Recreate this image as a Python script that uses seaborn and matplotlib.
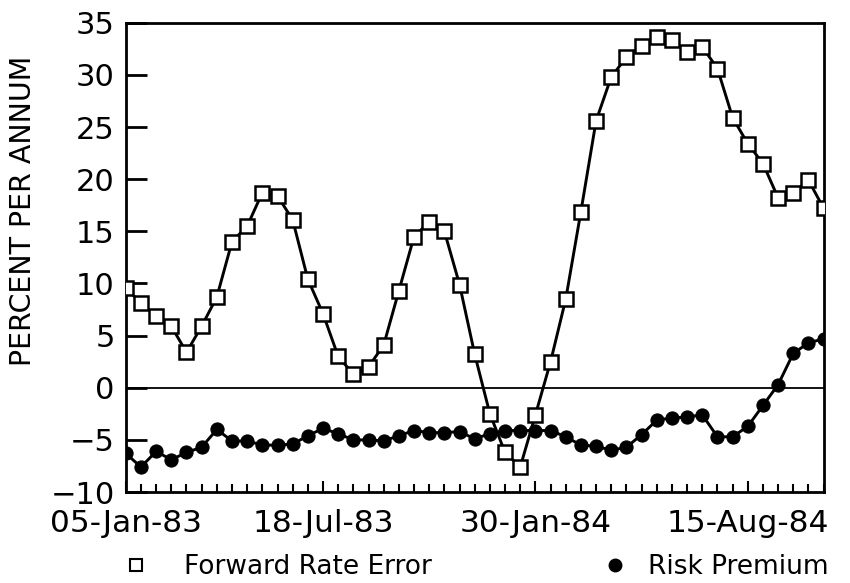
import numpy as np
import matplotlib
matplotlib.use("Agg")
import matplotlib.pyplot as plt
import seaborn as sns
from matplotlib.lines import Line2D

forward_rate_error = [
    9.6, 8.1, 6.9, 5.9, 3.4, 5.9, 8.7, 14.0, 15.5, 18.7, 18.4, 16.1,
    10.4, 7.1, 3.0, 1.3, 2.0, 4.1, 9.3, 14.5, 15.9, 15.0, 9.9, 3.2,
    -2.5, -6.2, -7.6, -2.6, 2.5, 8.5, 16.9, 25.6, 29.8, 31.7, 32.8, 33.6,
    33.3, 32.2, 32.7, 30.6, 25.9, 23.4, 21.5, 18.2, 18.7, 19.9, 17.2,
]
risk_premium = [
    -6.3, -7.6, -6.1, -6.9, -6.2, -5.7, -4.0, -5.1, -5.1, -5.5, -5.5, -5.4,
    -4.6, -3.9, -4.4, -5.0, -5.0, -5.1, -4.6, -4.1, -4.3, -4.3, -4.2, -4.9,
    -4.4, -4.1, -4.1, -4.1, -4.1, -4.7, -5.5, -5.6, -6.0, -5.7, -4.5, -3.1,
    -2.9, -2.8, -2.6, -4.7, -4.7, -3.7, -1.7, 0.3, 3.3, 4.3, 4.7,
]
period = list(range(len(forward_rate_error)))
tick_labels = ["05-Jan-83", "18-Jul-83", "30-Jan-84", "15-Aug-84"]
tick_index = [0, 13, 27, 41]

sns.set_style("ticks")
plt.rcParams["font.family"] = ["DejaVu Sans"]
plt.rcParams["text.color"] = "black"
plt.rcParams["xtick.color"] = "black"
plt.rcParams["ytick.color"] = "black"
plt.rcParams["axes.labelcolor"] = "black"

fig = plt.figure(figsize=(8.5, 5.83), dpi=100)
ax = fig.add_axes([0.148, 0.156, 0.821, 0.805])

ax.axhline(0, color="black", linewidth=1.3, zorder=1)

sns.lineplot(x=period, y=risk_premium, ax=ax, color="black", linewidth=2.1,
             marker="o", markersize=9.5, markerfacecolor="black",
             markeredgecolor="black", zorder=2)
sns.lineplot(x=period, y=forward_rate_error, ax=ax, color="black", linewidth=2.1,
             marker="s", markersize=10, markerfacecolor="white",
             markeredgecolor="black", markeredgewidth=1.8, zorder=3)

ax.set_xlim(0, len(period) - 1)
ax.set_ylim(-10, 35)
ax.set_yticks(np.arange(-10, 36, 5))
ax.set_xticks(tick_index)
ax.set_xticklabels(tick_labels)
ax.set_xticks(period, minor=True)

for s in ax.spines.values():
    s.set_linewidth(2)
    s.set_color("black")

ax.tick_params(axis="y", direction="in", length=15, width=2, pad=8,
               labelsize=22)
ax.tick_params(axis="x", which="major", direction="in", length=8, width=1.5,
               pad=12, labelsize=22.5)
ax.tick_params(axis="x", which="minor", direction="in", length=6, width=1.5)

ax.set_ylabel("PERCENT PER ANNUM", fontsize=20.5)
ax.yaxis.set_label_coords(-0.127, 0.6)
ax.set_xlabel("")

h1 = Line2D([], [], linestyle="none", marker="s", markersize=8,
            markerfacecolor="white", markeredgecolor="black", markeredgewidth=1.5)
h2 = Line2D([], [], linestyle="none", marker="o", markersize=9,
            markerfacecolor="black", markeredgecolor="black")
fig.legend(handles=[h1], labels=["Forward Rate Error"], loc="center left",
           bbox_to_anchor=(0.145, 0.027), frameon=False, fontsize=19,
           handlelength=1, handletextpad=1.3, borderpad=0, borderaxespad=0)
fig.legend(handles=[h2], labels=["Risk Premium"], loc="center right",
           bbox_to_anchor=(0.975, 0.027), frameon=False, fontsize=19,
           handlelength=1, handletextpad=0.77, borderpad=0, borderaxespad=0)

fig.savefig("out.png", dpi=100)
